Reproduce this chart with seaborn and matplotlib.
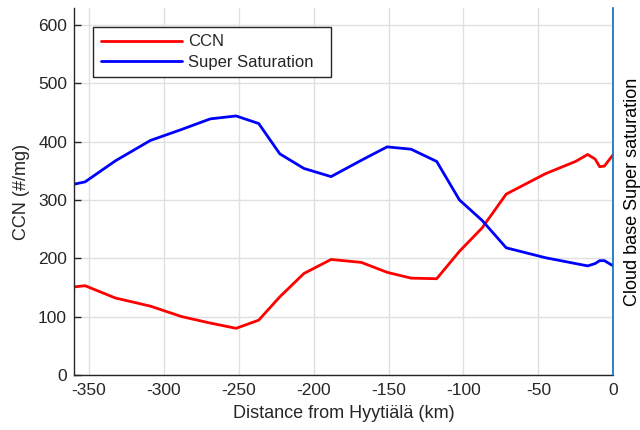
import numpy as np
import pandas as pd
import matplotlib
matplotlib.use("Agg")
import matplotlib.pyplot as plt
import seaborn as sns

# Distance along the flight track (km, relative to Hyytiälä)
distance_km = [-360, -352.6, -332.4, -309, -288, -269, -251.8, -236.7, -222.6,
               -206.5, -188.4, -168.2, -151, -135, -117.9, -102.7, -87.6,
               -71.5, -45.3, -25.2, -17.1, -12.1, -9.1, -6, 0]

# Cloud condensation nuclei (#/mg)
ccn = [151, 153, 132, 118, 100, 89, 80, 94, 134, 174, 198, 193, 176, 166,
       165, 212, 252, 310, 345, 366, 378, 370, 357, 358, 378]

# Cloud base super saturation, drawn on the same vertical scale
super_sat = [327, 331, 367, 402, 421, 439, 444, 431, 379, 354, 340, 368,
             391, 387, 366, 300, 265, 218, 201, 191, 187, 191, 196, 196, 187]

series_names = ["CCN", "Super Saturation"]
x_ticks = [-350, -300, -250, -200, -150, -100, -50, 0]
y_ticks = [0, 100, 200, 300, 400, 500, 600]

df = pd.concat([
    pd.DataFrame({"distance": distance_km, "value": ccn, "series": series_names[0]}),
    pd.DataFrame({"distance": distance_km, "value": super_sat, "series": series_names[1]}),
], ignore_index=True)

sns.set_theme(style="white")
plt.rcParams["font.family"] = ["Liberation Sans", "DejaVu Sans"]
plt.rcParams["axes.unicode_minus"] = False

dark = (0.15, 0.15, 0.15)
matlab_blue = (0.0, 0.447, 0.741)

fig = plt.figure(figsize=(6.4, 4.3), dpi=100)
ax = fig.add_axes([74 / 640, 1 - 375 / 430, (613.3 - 74) / 640, (375 - 8) / 430])

sns.lineplot(data=df, x="distance", y="value", hue="series",
             palette={"CCN": "#ff0000", "Super Saturation": "#0000ff"},
             linewidth=2.0, ax=ax, sort=False, estimator=None)

ax.set_xlim(-360, 0)
ax.set_ylim(0, 629)
ax.set_xticks(x_ticks)
ax.set_yticks(y_ticks)
ax.grid(True, color=(0.88, 0.88, 0.88), linewidth=1.0)
ax.set_axisbelow(True)
ax.tick_params(direction="in", length=5, width=1, colors=dark, labelsize=12.5,
               labelcolor=dark)
ax.tick_params(axis="x", pad=6)
ax.tick_params(axis="y", pad=5)

for side in ["top", "right"]:
    ax.spines[side].set_visible(False)
for side in ["left", "bottom"]:
    ax.spines[side].set_color(dark)
    ax.spines[side].set_linewidth(1.0)

ax.set_xlabel("Distance from Hyytiälä (km)", fontsize=13, color=dark, labelpad=5)
ax.set_ylabel("CCN (#/mg)", fontsize=13, color=dark, labelpad=6)

# Right-hand axis carries only its label
ax2 = ax.twinx()
ax2.set_ylim(ax.get_ylim())
ax2.set_yticks([])
for side in ["top", "left", "bottom"]:
    ax2.spines[side].set_visible(False)
ax2.spines["right"].set_color(matlab_blue)
ax2.spines["right"].set_linewidth(1.2)
ax2.set_ylabel("Cloud base Super saturation", fontsize=13, color="black", labelpad=8)

# Legend box stretched to a fixed width, entries left-aligned
handles, labels = ax.get_legend_handles_labels()
ax.legend(handles, labels, loc="upper left", mode="expand",
          bbox_to_anchor=(93 / 640, 1 - 75 / 430, 238 / 640, 48 / 430),
          bbox_transform=fig.transFigure,
          borderaxespad=0, fontsize=12, handlelength=4.9, handletextpad=0.35,
          borderpad=0.45, labelspacing=0.3, frameon=True, fancybox=False,
          edgecolor=dark, framealpha=1.0)
ax.get_legend().get_frame().set_linewidth(1.0)

fig.savefig("out.png", dpi=100)
